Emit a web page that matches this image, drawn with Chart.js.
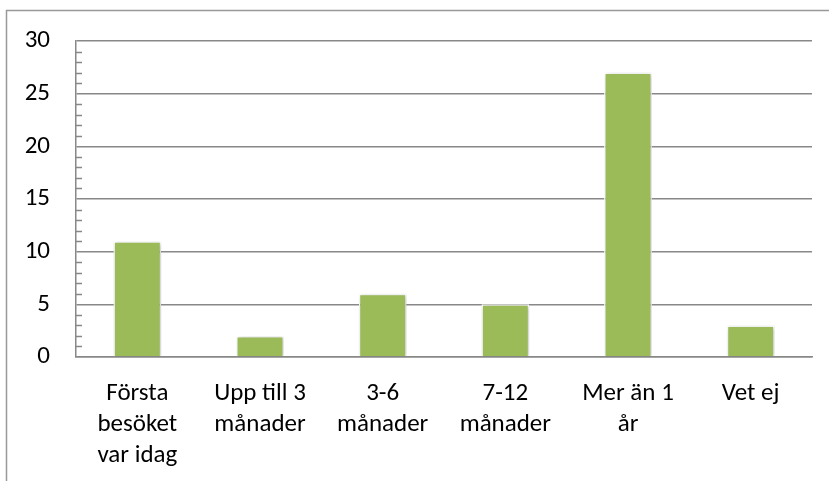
<!DOCTYPE html>
<html><head><meta charset="utf-8">
<script src="https://cdn.jsdelivr.net/npm/chart.js@4/dist/chart.umd.min.js"></script>
<style>html,body{margin:0;padding:0;background:#fff;}#wrap{width:829px;height:481px;position:relative;}</style>
</head><body><div id="wrap"><canvas id="c" width="829" height="481"></canvas></div>
<script>
const categories = [["Första","besöket","var idag"],["Upp till 3","månader"],["3-6","månader"],["7-12","månader"],["Mer än 1","år"],["Vet ej"]];
const values = [11, 2, 6, 5, 27, 3];
const yTicks = [0, 5, 10, 15, 20, 25, 30];
const FONT = "Carlito, Calibri, Lato, sans-serif";

const framePlugin = {
  id: 'frame',
  beforeDraw(chart) {
    const ctx = chart.ctx;
    ctx.save();
    ctx.fillStyle = '#fff';
    ctx.fillRect(0, 0, chart.width, chart.height);
    ctx.strokeStyle = '#999';
    ctx.lineWidth = 1.5;
    ctx.beginPath();
    ctx.moveTo(6.5, chart.height + 2);
    ctx.lineTo(6.5, 10.5);
    ctx.lineTo(chart.width + 2, 10.5);
    ctx.stroke();
    ctx.restore();
  },
  afterDraw(chart) {
    const y = chart.scales.y, ctx = chart.ctx;
    const x0 = chart.chartArea.left;
    ctx.save();
    ctx.strokeStyle = '#888';
    ctx.lineWidth = 1.5;
    ctx.beginPath();
    for (let v = 0; v <= 30; v++) {
      if (v % 5 === 0) continue;
      const py = Math.round(y.getPixelForValue(v)) + 0.5;
      ctx.moveTo(x0, py);
      ctx.lineTo(x0 + 6, py);
    }
    ctx.stroke();
    ctx.restore();
  },
  beforeDatasetsDraw(chart) {
    const ctx = chart.ctx;
    ctx.save();
    ctx.shadowColor = 'rgba(0,0,0,0.25)';
    ctx.shadowBlur = 4;
    ctx.shadowOffsetX = 1;
    ctx.shadowOffsetY = 1;
  },
  afterDatasetsDraw(chart) {
    chart.ctx.restore();
  }
};

new Chart(document.getElementById('c'), {
  type: 'bar',
  data: {
    labels: categories,
    datasets: [{
      data: values,
      backgroundColor: '#9BBB59',
      borderColor: '#ffffff',
      borderWidth: 1.5,
      categoryPercentage: 1,
      barPercentage: 0.39
    }]
  },
  options: {
    responsive: false,
    animation: false,
    devicePixelRatio: 1,
    layout: { padding: { left: 0, top: 40, right: 17, bottom: 0 } },
    plugins: { legend: { display: false }, tooltip: { enabled: false } },
    scales: {
      y: {
        min: 0, max: 30,
        afterBuildTicks(scale) { scale.ticks = yTicks.map(v => ({ value: v })); },
        afterFit(scale) { scale.width = 76; },
        ticks: { color: '#000', font: { family: FONT, size: 25 }, padding: 26 },
        grid: { color: '#888', lineWidth: 1.5, drawTicks: false },
        border: { color: '#888', width: 1.5 }
      },
      x: {
        afterFit(scale) { scale.height = 124; },
        ticks: { color: '#000', font: { family: FONT, size: 25, lineHeight: '31px' }, padding: 21, maxRotation: 0, autoSkip: false },
        grid: { display: false, drawTicks: false },
        border: { color: '#888', width: 1.5 }
      }
    }
  },
  plugins: [framePlugin]
});
</script></body></html>
